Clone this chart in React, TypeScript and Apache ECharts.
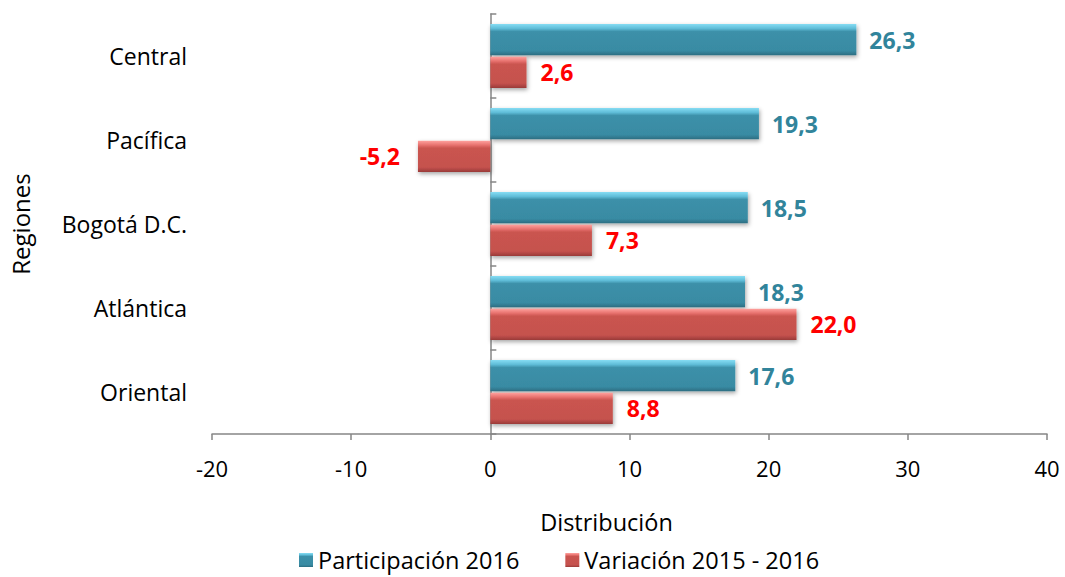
import React, { useEffect, useRef } from "react";
import * as echarts from "echarts";

const categories = ["Central", "Pacífica", "Bogotá D.C.", "Atlántica", "Oriental"];
const participacion = [26.3, 19.3, 18.5, 18.3, 17.6];
const variacion = [2.6, -5.2, 7.3, 22.0, 8.8];
const seriesNames = ["Participación 2016", "Variación 2015 - 2016"];
const xTicks = { min: -20, max: 40, interval: 10 };

const FONT = "'Open Sans', 'Noto Sans', sans-serif";
const AXIS_GREY = "#868686";

const blueGrad = new echarts.graphic.LinearGradient(0, 0, 0, 1, [
  { offset: 0, color: "#86dcf3" },
  { offset: 0.14, color: "#5fbdd8" },
  { offset: 0.24, color: "#3c90a9" },
  { offset: 0.85, color: "#398ba3" },
  { offset: 1, color: "#2b6d81" },
]);
const redGrad = new echarts.graphic.LinearGradient(0, 0, 0, 1, [
  { offset: 0, color: "#ffa29f" },
  { offset: 0.14, color: "#e8736f" },
  { offset: 0.24, color: "#ca544f" },
  { offset: 0.85, color: "#c5524e" },
  { offset: 1, color: "#9a3b38" },
]);

const fmt = (v: number) => v.toFixed(1).replace(".", ",");

export default function App() {
  const ref = useRef<HTMLDivElement>(null);
  useEffect(() => {
    if (!ref.current) return;
    const chart = echarts.init(ref.current, null, { renderer: "svg" });
    chart.setOption({
      animation: false,
      backgroundColor: "#ffffff",
      grid: { left: 211, right: 18, top: 14, bottom: 143 },
      legend: {
        top: 548,
        left: 299,
        padding: 0,
        itemWidth: 14,
        itemHeight: 14,
        itemGap: 46,
        icon: "rect",
        textStyle: { fontFamily: FONT, fontSize: 23.5, color: "#000", lineHeight: 24 },
        data: [
          { name: seriesNames[0], itemStyle: { color: blueGrad } },
          { name: seriesNames[1], itemStyle: { color: redGrad } },
        ],
      },
      xAxis: {
        type: "value",
        min: xTicks.min,
        max: xTicks.max,
        interval: xTicks.interval,
        name: "Distribución",
        nameLocation: "middle",
        nameGap: 76,
        nameTextStyle: { fontFamily: FONT, fontSize: 23.5, color: "#000", padding: [0, 46, 0, 0] },
        axisLine: { show: true, onZero: false, lineStyle: { color: AXIS_GREY, width: 1.5 } },
        axisTick: { show: true, length: 6, lineStyle: { color: AXIS_GREY, width: 1.5 } },
        splitLine: { show: false },
        axisLabel: { fontFamily: FONT, fontSize: 22, color: "#000", margin: 23 },
      },
      yAxis: [
        {
          type: "category",
          data: categories,
          inverse: true,
          name: "Regiones",
          nameLocation: "middle",
          nameGap: 180,
          nameTextStyle: { fontFamily: FONT, fontSize: 24, color: "#000" },
          axisLine: { show: false, onZero: false },
          axisTick: { show: false },
          axisLabel: { fontFamily: FONT, fontSize: 23, color: "#000", margin: 25 },
        },
        {
          type: "category",
          data: categories,
          inverse: true,
          axisLine: { show: true, onZero: true, lineStyle: { color: AXIS_GREY, width: 1.5 } },
          axisTick: { show: true, length: 6, lineStyle: { color: AXIS_GREY, width: 1.5 } },
          axisLabel: { show: false },
        },
      ],
      series: [
        {
          name: seriesNames[0],
          type: "bar",
          yAxisIndex: 0,
          data: participacion,
          barCategoryGap: "24%",
          barGap: "4%",
          itemStyle: {
            color: blueGrad,
            shadowBlur: 4,
            shadowColor: "rgba(0,0,0,0.35)",
            shadowOffsetY: 2,
            shadowOffsetX: 1,
          },
          label: {
            show: true,
            position: "right",
            distance: 13,
            formatter: (p: any) => fmt(p.value),
            fontFamily: FONT,
            fontSize: 23,
            fontWeight: "bold",
            color: "#31849B",
          },
        },
        {
          name: seriesNames[1],
          type: "bar",
          yAxisIndex: 0,
          data: variacion.map((v) => ({
            value: v,
            label: v < 0 ? { position: "left", distance: 18 } : { position: "right" },
          })),
          barCategoryGap: "24%",
          barGap: "4%",
          itemStyle: {
            color: redGrad,
            shadowBlur: 4,
            shadowColor: "rgba(0,0,0,0.35)",
            shadowOffsetY: 2,
            shadowOffsetX: 1,
          },
          label: {
            show: true,
            position: "right",
            distance: 14,
            formatter: (p: any) => fmt(p.value),
            fontFamily: FONT,
            fontSize: 23,
            fontWeight: "bold",
            color: "#FF0000",
          },
        },
      ],
    });
    return () => chart.dispose();
  }, []);
  return (
    <div
      ref={ref}
      style={{ position: "fixed", left: 0, top: 0, width: 1065, height: 577, background: "#fff" }}
    />
  );
}
